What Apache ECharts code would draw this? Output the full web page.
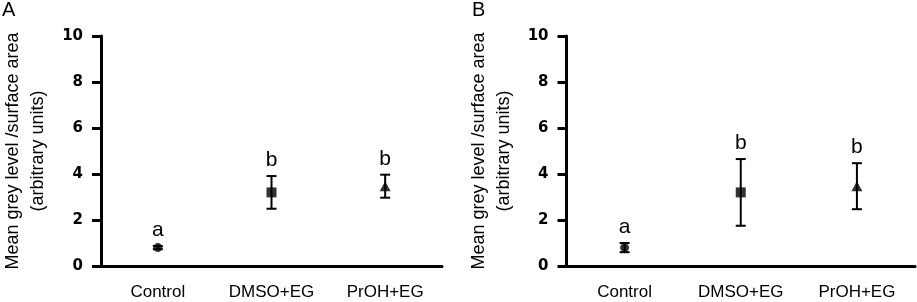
<!DOCTYPE html>
<html>
<head>
<meta charset="utf-8">
<script src="https://cdn.jsdelivr.net/npm/echarts@6/dist/echarts.min.js"></script>
<style>
  html, body { margin: 0; padding: 0; background: #fff; }
  #chart { width: 917px; height: 302px; }
</style>
</head>
<body>
<div id="chart"></div>
<script>
// categories + per-group marker
const categories = ['Control', 'DMSO+EG', 'PrOH+EG']
const symbols = ['circle', 'rect', 'triangle']
const letters = ['a', 'b', 'b']

// panel A
const meanA = [0.8, 3.2, 3.47]
const errA = [0.07, 0.71, 0.5]
// panel B
const meanB = [0.8, 3.2, 3.47]
const errB = [0.2, 1.45, 1.0]

const yTicks = { min: 0, max: 10, interval: 2 }
const yName = 'Mean grey level /surface area\n(arbitrary units)'

const FONT = 'Liberation Sans, Arial, sans-serif'
const black = '#000'

const chart = echarts.init(document.getElementById('chart'), null, { renderer: 'canvas' })

function xAxisFor(gridIndex) {
  return {
    type: 'category',
    gridIndex,
    data: categories,
    boundaryGap: true,
    axisLine: { lineStyle: { color: black, width: 3 } },
    axisTick: { alignWithLabel: true, length: 8, lineStyle: { color: black, width: 3 } },
    axisLabel: { color: black, fontSize: 17, fontFamily: FONT, margin: 18 },
    splitLine: { show: false }
  }
}

function yAxisFor(gridIndex) {
  return {
    type: 'value',
    gridIndex,
    min: yTicks.min,
    max: yTicks.max,
    interval: yTicks.interval,
    name: yName,
    nameLocation: 'middle',
    nameGap: 50,
    nameTextStyle: { color: black, fontSize: 18, fontFamily: FONT, lineHeight: 25 },
    axisLine: { show: true, lineStyle: { color: black, width: 3 } },
    axisTick: { show: true, length: 9, lineStyle: { color: black, width: 3 } },
    axisLabel: { color: black, fontSize: 15, fontWeight: 'bold', fontFamily: 'DejaVu Sans, sans-serif', margin: 18 },
    splitLine: { show: false }
  }
}

// mean markers
function pointSeries(idx, means) {
  return {
    type: 'scatter',
    xAxisIndex: idx,
    yAxisIndex: idx,
    z: 3,
    data: means.map((v, i) => ({
      value: [i, v],
      symbol: symbols[i],
      symbolSize: symbols[i] === 'circle' ? 9 : (symbols[i] === 'rect' ? 10 : [11, 10])
    })),
    itemStyle: { color: black }
  }
}

// error bars (SD) + significance letters
function errorSeries(idx, means, errs) {
  return {
    type: 'custom',
    xAxisIndex: idx,
    yAxisIndex: idx,
    z: 2,
    data: means.map((v, i) => [i, v - errs[i], v + errs[i]]),
    renderItem: (params, api) => {
      const x = api.value(0)
      const lo = api.coord([x, api.value(1)])
      const hi = api.coord([x, api.value(2)])
      const cap = 5
      const st = { stroke: black, lineWidth: 2 }
      return {
        type: 'group',
        children: [
          { type: 'line', shape: { x1: hi[0], y1: hi[1], x2: lo[0], y2: lo[1] }, style: st },
          { type: 'line', shape: { x1: hi[0] - cap, y1: hi[1], x2: hi[0] + cap, y2: hi[1] }, style: st },
          { type: 'line', shape: { x1: lo[0] - cap, y1: lo[1], x2: lo[0] + cap, y2: lo[1] }, style: st },
          {
            type: 'text',
            style: {
              text: letters[params.dataIndex],
              x: hi[0],
              y: hi[1] - 5,
              align: 'center',
              verticalAlign: 'bottom',
              fontSize: 21,
              fontFamily: FONT,
              fill: black
            }
          }
        ]
      }
    }
  }
}

const options = {
  animation: false,
  backgroundColor: '#fff',
  grid: [
    { left: 96.5, right: 475, top: 36, bottom: 36, containLabel: false },
    { left: 566.5, right: 2, top: 36, bottom: 36, containLabel: false }
  ],
  xAxis: [xAxisFor(0), xAxisFor(1)],
  yAxis: [yAxisFor(0), yAxisFor(1)],
  graphic: [
    { type: 'text', left: 2, top: 0, style: { text: 'A', fontSize: 20, fontFamily: FONT, fill: black } },
    { type: 'text', left: 472, top: 0, style: { text: 'B', fontSize: 20, fontFamily: FONT, fill: black } }
  ],
  series: [
    errorSeries(0, meanA, errA),
    pointSeries(0, meanA),
    errorSeries(1, meanB, errB),
    pointSeries(1, meanB)
  ]
}

chart.setOption(options)
</script>
</body>
</html>
